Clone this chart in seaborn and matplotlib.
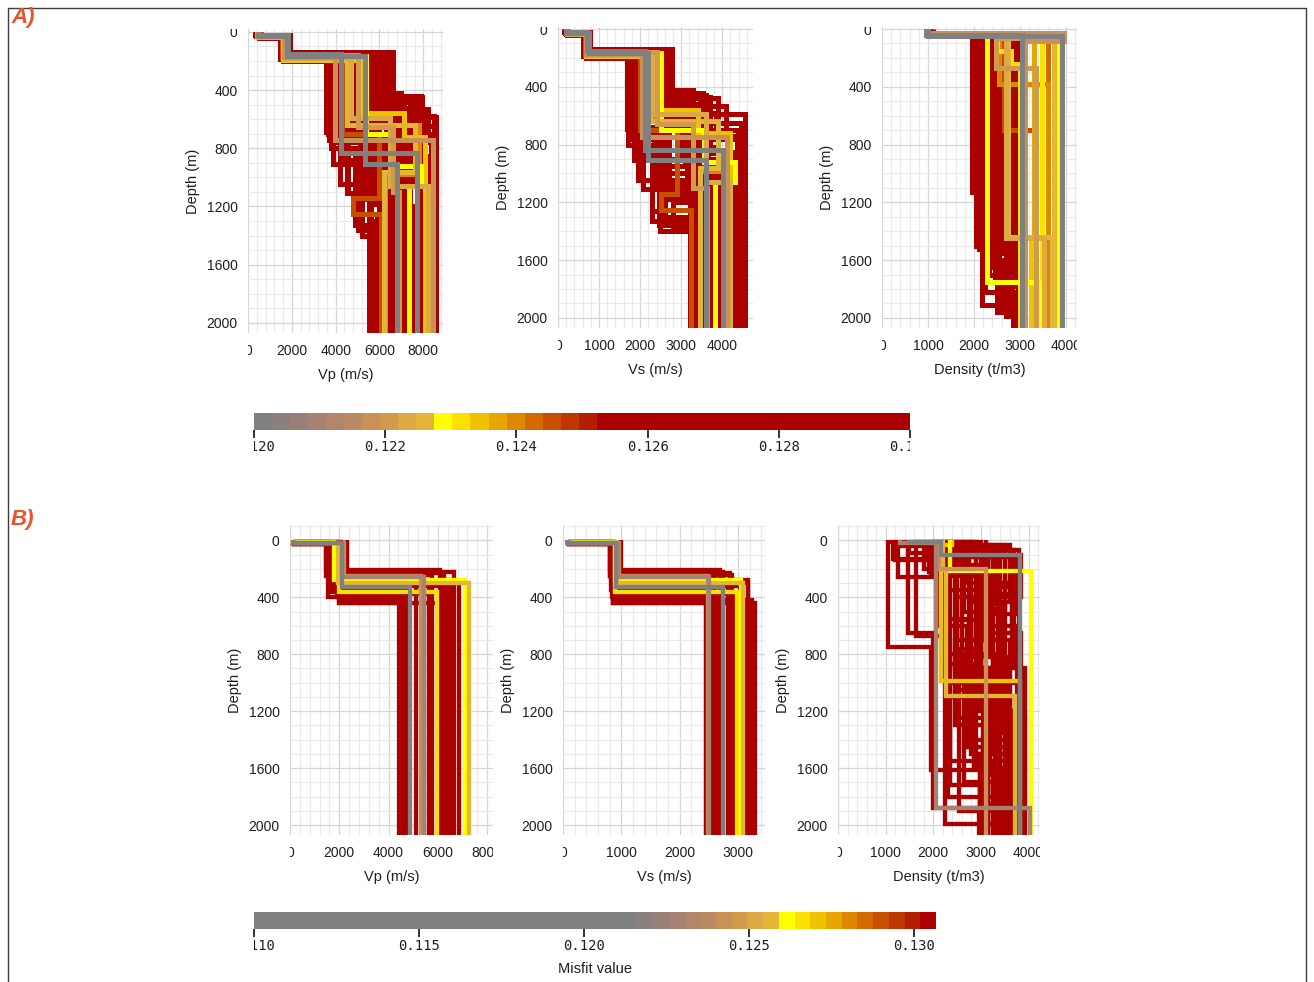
import numpy as np
import pandas as pd
import matplotlib
matplotlib.use("Agg")
import matplotlib.pyplot as plt
import seaborn as sns
from matplotlib.colors import ListedColormap, BoundaryNorm
from matplotlib.transforms import Bbox, TransformedBbox
from matplotlib.patches import Rectangle
from matplotlib.cm import ScalarMappable
from matplotlib.ticker import MultipleLocator, FormatStrFormatter

# ---------------------------------------------------------------- data
# misfit colour scale (20 steps, gray -> yellow -> dark red)
MISFIT_COLORS = ["#808080", "#8c807e", "#988079", "#a58273", "#b2866b",
                 "#bc8a62", "#c79157", "#d29b4c", "#dca942", "#e4b638",
                 "#ffff00", "#fae100", "#f0c300", "#e8a600", "#de8700",
                 "#d46900", "#c84e00", "#be3700", "#b41e00", "#aa0000"]
A_CBAR_TICKS = [0.120, 0.122, 0.124, 0.126, 0.128, 0.130]
B_CBAR_TICKS = [0.110, 0.115, 0.120, 0.125, 0.130]
CBAR_LABEL = "Misfit value"

# --- panel A : Vp / Vs models (layer tops in m, values in m/s)
A_VEL_TOPS = [
    [0, 25, 145, 690], [0, 30, 160, 745, 1110], [0, 35, 175, 905, 1330],
    [0, 28, 190, 1045], [0, 22, 140, 445, 585], [0, 30, 150, 580, 740],
    [0, 35, 160, 470, 700], [0, 25, 150, 520, 900], [0, 30, 170, 640, 1000],
    [0, 40, 185, 600, 850], [0, 20, 155, 700, 1200], [0, 33, 200, 560, 950],
    [0, 27, 165, 760, 1120], [0, 35, 145, 800, 1260, 1400],
    [0, 30, 160, 480, 820, 1300], [0, 38, 175, 620, 900],
    [0, 26, 150, 420, 1050], [0, 32, 190, 880, 1180],
    [0, 29, 165, 530, 760, 1470], [0, 36, 180, 700, 1000],
    [0, 22, 155, 560, 860], [0, 31, 170, 1110, 1330], [0, 28, 150, 650, 1250],
    [0, 34, 180, 440, 950, 1450],
    [0, 24, 150, 700, 1150], [0, 33, 170, 620, 1000], [0, 27, 160, 560, 900, 1300],
    [0, 30, 155, 500, 760], [0, 36, 185, 480, 820, 1200], [0, 25, 145, 460, 650],
    [0, 31, 165, 600, 1050, 1380], [0, 29, 175, 720, 1080], [0, 34, 160, 540, 840, 1230],
    [0, 23, 150, 680, 980, 1360], [0, 35, 190, 640, 930], [0, 28, 170, 450, 1020],
    [0, 20, 150, 835], [0, 25, 165, 905], [0, 30, 175, 745],
    [0, 28, 160, 655, 1100], [0, 32, 180, 590, 1060], [0, 30, 170, 640, 960],
    [0, 26, 165, 700, 920, 1060], [0, 33, 190, 560, 720],
    [0, 29, 175, 640, 980], [0, 35, 180, 700, 1140, 1250],
]
A_VP = [
    [350, 1500, 3550, 5500], [420, 1600, 3700, 4550, 5600], [500, 1700, 3900, 5200, 6050],
    [380, 1800, 4200, 5500], [300, 1900, 6600, 7950, 8600], [450, 1850, 6300, 8500, 8600],
    [550, 1750, 6000, 7600, 8400], [400, 1650, 5800, 7200, 8100], [600, 1550, 5400, 6900, 7800],
    [500, 1450, 5000, 6500, 8300], [350, 1700, 4700, 6200, 7000], [450, 1600, 4400, 6000, 7400],
    [380, 1900, 4100, 5800, 6800], [550, 1800, 3800, 4900, 5200, 6300],
    [420, 1650, 5200, 7700, 6500, 6200], [520, 1750, 4600, 6700, 8000],
    [360, 1550, 6400, 7000, 8500], [470, 1850, 4300, 5600, 6400],
    [400, 1700, 5600, 8200, 7300, 5500], [480, 1600, 4900, 6300, 7100],
    [330, 1800, 5900, 7500, 8550], [440, 1650, 4500, 4900, 5700], [390, 1900, 6100, 7100, 5900],
    [470, 1550, 6550, 7900, 7000, 6600],
    [380, 1600, 3650, 5100, 6200], [460, 1750, 4000, 5900, 7300],
    [400, 1850, 4350, 6300, 5500, 6500], [430, 1550, 4800, 7100, 8350],
    [500, 1700, 5100, 7400, 6800, 7600], [370, 1800, 5700, 7800, 8500],
    [440, 1650, 6250, 6900, 6000, 5650], [420, 1900, 4450, 5300, 6600],
    [470, 1600, 5500, 8000, 7100, 6900], [350, 1750, 4050, 5700, 5000, 5800],
    [510, 1850, 5250, 6800, 7700], [400, 1700, 6450, 7500, 8000],
    [450, 1820, 4230, 7730], [500, 1800, 5360, 6800], [400, 1650, 3950, 8450],
    [450, 1750, 5000, 6600, 6900], [480, 1700, 4700, 6500, 8200], [430, 1750, 4500, 7600, 6200],
    [400, 1800, 5400, 6600, 7900, 7330], [470, 1600, 5200, 7100, 8100],
    [420, 1700, 5000, 7800, 6250], [500, 1550, 4300, 6000, 4800, 6050],
]
A_VS = [
    [180, 640, 1680, 3220], [200, 660, 1760, 2350, 3300], [220, 700, 1850, 2500, 3450],
    [190, 740, 1950, 3220], [150, 780, 2770, 3520, 4560], [200, 760, 2700, 3840, 4500],
    [230, 720, 2600, 3700, 4390], [190, 680, 2500, 3400, 4200], [250, 650, 2300, 3300, 4000],
    [220, 620, 2200, 3100, 4300], [170, 700, 2100, 2900, 3700], [200, 670, 1900, 2700, 3900],
    [180, 760, 1800, 2600, 3600], [230, 740, 1700, 2300, 2490, 3450],
    [200, 690, 2400, 3900, 3500, 3350], [220, 720, 2000, 3000, 4100],
    [180, 650, 2650, 3300, 4450], [210, 760, 1900, 2700, 3500],
    [190, 700, 2550, 4100, 3650, 3220], [210, 680, 2150, 3200, 3800],
    [160, 740, 2600, 3600, 4560], [200, 690, 2080, 2290, 3250], [180, 780, 2750, 3400, 3300],
    [210, 640, 2770, 3500, 3950, 3550],
    [180, 650, 1700, 2450, 3350], [210, 720, 1850, 2700, 3800],
    [190, 750, 1950, 2900, 2600, 3500], [200, 650, 2150, 3300, 4350],
    [220, 700, 2350, 3500, 3150, 3750], [180, 740, 2650, 3600, 4450],
    [200, 690, 2700, 3200, 2800, 3300], [190, 760, 2000, 2550, 3550],
    [210, 670, 2450, 3700, 3300, 3600], [170, 720, 1800, 2650, 2450, 3250],
    [220, 750, 2400, 3100, 3750], [190, 700, 2750, 3450, 4000],
    [200, 700, 2110, 4030], [220, 760, 2190, 3600], [190, 680, 2050, 4110],
    [200, 720, 2400, 3300, 3620], [210, 700, 2300, 3600, 4200], [200, 720, 2250, 3900, 3450],
    [190, 740, 2500, 3550, 4300, 3830], [210, 680, 2400, 3400, 4200],
    [200, 700, 2300, 3900, 3450], [220, 650, 2000, 2900, 2500, 3250],
]
A_VEL_MISFIT = [0.1262, 0.1285, 0.1271, 0.1290, 0.1297, 0.1266, 0.1279, 0.1258,
                0.1283, 0.1274, 0.1269, 0.1288, 0.1277, 0.1293, 0.1261, 0.1281,
                0.1272, 0.1295, 0.1264, 0.1286, 0.1276, 0.1268, 0.1291, 0.1259,
                0.1263, 0.1284, 0.1270, 0.1289, 0.1296, 0.1267, 0.1278, 0.1257,
                0.1282, 0.1275, 0.1265, 0.1287,
                0.1201, 0.12015, 0.1218, 0.1221, 0.1223, 0.1226, 0.1229, 0.1234,
                0.1240, 0.1245]

# --- panel A : density models
A_RHO_TOPS = [
    [0, 40, 1130], [0, 45, 1520], [0, 35, 1910], [0, 42, 780, 1750], [0, 38, 1600, 1960],
    [0, 44, 1300], [0, 40, 700, 1450], [0, 36, 900], [0, 45, 1250, 1940], [0, 42, 400, 1100],
    [0, 40, 1680], [0, 30, 70], [0, 40, 1500, 1820], [0, 43, 1000, 1650], [0, 41, 850, 1880],
    [0, 39, 1400], [0, 44, 1200, 1920],
    [0, 40, 950, 1700], [0, 42, 1180], [0, 38, 600, 1350], [0, 45, 1050, 1850],
    [0, 41, 820, 1550], [0, 40, 1320, 1990], [0, 44, 760, 1620], [0, 39, 1100],
    [0, 43, 950, 1780], [0, 40, 1250], [0, 36, 500, 1480], [0, 42, 1400, 1850],
    [0, 30, 60], [0, 45, 1700, 1960],
    [0, 40], [0, 45], [0, 30, 85], [0, 42, 65, 270], [0, 40, 1450], [0, 45, 1440],
    [0, 40, 1750], [0, 45, 150, 240], [0, 40, 1450], [0, 38, 380], [0, 42, 700],
    [0, 40], [0, 42], [0, 44], [0, 38], [0, 41],
]
A_RHO = [
    [1000, 1960, 3000], [1050, 2100, 2950], [980, 2180, 3000], [1020, 2300, 2450, 3000],
    [1000, 2450, 2600, 3000], [950, 2550, 2970], [1100, 2650, 2750, 3000], [1000, 2800, 3000],
    [1000, 2380, 2720, 2980], [1050, 2620, 2500, 2950], [1000, 2850, 2990], [1000, 3930, 2950],
    [1000, 2050, 2250, 2850], [1000, 2200, 2350, 2980], [1000, 2500, 2700, 2950],
    [1000, 2750, 2960], [1000, 2150, 2550, 3000],
    [1000, 2030, 2300, 2950], [1000, 2120, 2980], [1000, 2250, 2400, 3000],
    [1000, 2350, 2550, 2990], [1000, 2420, 2600, 2960], [1000, 2520, 2700, 3000],
    [1000, 2580, 2850, 2980], [1000, 2680, 2950], [1000, 2730, 2900, 3000],
    [1000, 2900, 3000], [1000, 2950, 2820, 2990], [1000, 2600, 2820, 3000],
    [1000, 3700, 2980], [1000, 2320, 2500, 2950],
    [950, 3050], [1000, 3920], [1000, 3950, 3100], [1000, 3300, 2480, 3350],
    [1000, 2700, 3520], [1000, 2750, 3700], [1000, 2290, 3420], [1000, 2500, 2800, 3000],
    [1000, 2710, 3250], [1000, 2550, 3600], [1000, 2650, 3300],
    [1000, 3300], [1000, 3480], [1000, 3750], [1000, 3600], [1000, 3820],
]
A_RHO_MISFIT = [0.1262, 0.1285, 0.1271, 0.1290, 0.1297, 0.1266, 0.1279, 0.1258, 0.1283,
                0.1274, 0.1269, 0.1288, 0.1277, 0.1293, 0.1261, 0.1281, 0.1272,
                0.1263, 0.1284, 0.1270, 0.1289, 0.1296, 0.1267, 0.1278, 0.1257,
                0.1282, 0.1275, 0.1265, 0.1287, 0.1292, 0.1280,
                0.1201, 0.12015, 0.1218, 0.1221, 0.1223, 0.1226, 0.1229, 0.1231,
                0.1234, 0.1240, 0.1245,
                0.1236, 0.1232, 0.1227, 0.1243, 0.1229]

# --- panel B : Vp / Vs models
B_VEL_TOPS = [
    [0, 15, 250], [0, 10, 440], [0, 225], [0, 20, 230], [0, 15, 300], [0, 25, 260],
    [0, 18, 320], [0, 22, 350], [0, 12, 380], [0, 20, 440], [0, 210], [0, 16, 400],
    [0, 18, 340], [0, 14, 270], [0, 22, 400], [0, 16, 300], [0, 20, 240], [0, 12, 280],
    [0, 24, 360], [0, 15, 420],
    [0, 15, 330], [0, 15, 255], [0, 20, 250], [0, 20, 300], [0, 12, 280], [0, 18, 365],
]
B_VP = [
    [150, 1450, 4420], [200, 2060, 4600], [2300, 6650], [120, 1590, 6240], [180, 1700, 6850],
    [150, 2000, 5100], [130, 1650, 6400], [160, 1800, 4750], [140, 1900, 5650],
    [170, 2000, 6050], [1450, 6100], [150, 1550, 4500],
    [150, 1750, 4480], [130, 1600, 4650], [160, 1950, 4820], [140, 1850, 5650],
    [150, 1500, 5750], [120, 2050, 6550], [170, 1700, 6350], [140, 2000, 4520],
    [110, 2130, 4890], [120, 2100, 5430], [130, 2200, 5300], [140, 1950, 7250],
    [100, 1790, 7110], [130, 2000, 5960],
]
B_VS = [
    [90, 800, 2460], [100, 860, 3290], [1000, 2740], [100, 830, 2860], [110, 900, 3170],
    [95, 950, 2600], [90, 880, 3030], [100, 820, 2550], [85, 870, 2950], [100, 860, 3100],
    [800, 2700], [95, 840, 2500],
    [95, 850, 2470], [90, 820, 2580], [100, 880, 2650], [95, 870, 2830],
    [90, 810, 2900], [85, 900, 3180], [100, 850, 2700], [90, 870, 3250],
    [86, 914, 2740], [90, 940, 2510], [95, 960, 2480], [95, 930, 3080],
    [90, 890, 3060], [100, 900, 2980],
]
B_VEL_MISFIT = [0.1302, 0.1305, 0.1303, 0.1306, 0.1304, 0.1302, 0.1305, 0.1303, 0.1304,
                0.1306, 0.1302, 0.1305, 0.1303, 0.1304, 0.1306, 0.1302, 0.1305, 0.1303,
                0.1304, 0.1306,
                0.1105, 0.1228, 0.1242, 0.1256, 0.1261, 0.1266]

# --- panel B : density models
B_RHO_TOPS = [
    [0, 750, 1610], [0, 260, 1720], [0, 650, 1880], [0, 670, 1990], [0, 140, 600, 1400],
    [0, 50, 400, 1100], [0, 120, 900], [0, 10, 80, 350, 1500], [0, 200, 1000, 1580],
    [0, 100, 700, 1300], [0, 30, 480, 1650], [0, 180, 550, 980], [0, 250, 800, 1450],
    [0, 90, 420, 1200], [0, 8, 60, 330, 1000], [0, 150, 1050, 1750], [0, 40, 600, 1350],
    [0, 110, 870, 1550], [0, 8, 70, 1250], [0, 220, 760, 1900], [0, 130, 500, 1500],
    [0, 300, 1100, 1800],
    [0, 60, 500, 1200], [0, 90, 700, 1450], [0, 40, 300, 900, 1600], [0, 120, 650, 1350],
    [0, 30, 450, 1100, 1700], [0, 70, 380, 950], [0, 160, 820, 1500],
    [0, 50, 560, 1250, 1850], [0, 100, 400, 1000], [0, 20, 250, 1150], [0, 80, 600, 1700],
    [0, 140, 900, 1600], [0, 60, 350, 800, 1400], [0, 110, 520, 1300], [0, 45, 700, 1550],
    [0, 200, 1000, 1900], [0, 35, 430, 1050], [0, 170, 650, 1500], [0, 80, 300, 700, 1300],
    [0, 240, 900, 1650],
    [0, 12, 106], [0, 15, 1880], [0, 200], [0, 210, 1094], [0, 212], [0, 30, 988],
]
B_RHO = [
    [1050, 1960, 3000], [1260, 2350, 3150], [1470, 2000, 2950], [1640, 2240, 3350],
    [1200, 2100, 2700, 3500], [2300, 3290, 2500, 3600], [2600, 3700, 3920],
    [2000, 2900, 3300, 2800, 3800], [1800, 2600, 2900, 3250], [2100, 3000, 2450, 3700],
    [1700, 3500, 3100, 3900], [2500, 2200, 2800, 3400], [2000, 3200, 2650, 3050],
    [1500, 2750, 3400, 3650], [1600, 2800, 3600, 3000, 3300], [2200, 2500, 3150, 2980],
    [1350, 3100, 3450, 3750], [2400, 2900, 2350, 3550], [1100, 3000, 3800, 3920],
    [1900, 2950, 2550, 3450], [1150, 2650, 3250, 2980], [2700, 3400, 2300, 3850],
    [2100, 3350, 2950, 3850], [2250, 3500, 2700, 3700], [1900, 3150, 3650, 2850, 3450],
    [2550, 3650, 3250, 3900], [1750, 2900, 3450, 2650, 3350], [2450, 3700, 3000, 3600],
    [2050, 2750, 3550, 3150], [2650, 3250, 2500, 3750, 3050], [2350, 3850, 3350, 3780],
    [1600, 2650, 3000, 3550], [2750, 3150, 3750, 3250], [1850, 2450, 3050, 3650],
    [2950, 3400, 2200, 3300, 3880], [2150, 3750, 2900, 3400], [2500, 3050, 3600, 3100],
    [2000, 2300, 3350, 3700], [3100, 3600, 2750, 3500], [2300, 3100, 3850, 2990],
    [2850, 3250, 2600, 3500, 3900], [1950, 2800, 3200, 3600],
    [1500, 2170, 3810], [1300, 2060, 4020], [2130, 3110], [2200, 2270, 3710],
    [2350, 4060], [2400, 2170, 3810],
]
B_RHO_MISFIT = [0.1302, 0.1305, 0.1303, 0.1306, 0.1304, 0.1302, 0.1305, 0.1303, 0.1304,
                0.1306, 0.1302, 0.1305, 0.1303, 0.1304, 0.1306, 0.1302, 0.1305, 0.1303,
                0.1304, 0.1306, 0.1302, 0.1305,
                0.1303, 0.1304, 0.1306, 0.1302, 0.1305, 0.1303, 0.1304, 0.1306, 0.1302,
                0.1305, 0.1303, 0.1304, 0.1306, 0.1302, 0.1305, 0.1303, 0.1304, 0.1306,
                0.1302, 0.1305,
                0.1105, 0.1228, 0.1242, 0.1256, 0.1261, 0.1270]

# ---------------------------------------------------------------- style
W, H, DPI = 1314, 982, 100
sns.set_theme(style="white")
plt.rcParams["font.family"] = ["Liberation Sans", "DejaVu Sans"]
TXT = "#1e1e1e"

# colour-scale boundaries (style: 20 equal steps)
A_BOUNDS = [0.1200 + k * 0.000275 for k in range(20)] + [0.1300]
B_BOUNDS = [0.1100] + [0.12161 + k * 0.000476 for k in range(20)]
CMAP = ListedColormap(MISFIT_COLORS)

fig = plt.figure(figsize=(W / DPI, H / DPI), dpi=DPI)


def px_axes(l, t, r, b):
    return fig.add_axes([l / W, 1 - b / H, (r - l) / W, (b - t) / H])


def color_of(m, bounds):
    idx = int(np.searchsorted(bounds, m, side="right") - 1)
    return MISFIT_COLORS[min(max(idx, 0), 19)]


def profile_frame(tops, values, bottom=2300):
    rows = []
    for k, (t, v) in enumerate(zip(tops, values)):
        edges = list(t) + [bottom]
        for i, val in enumerate(v):
            rows.append((f"m{k:02d}", val, edges[i]))
            rows.append((f"m{k:02d}", val, edges[i + 1]))
    return pd.DataFrame(rows, columns=["model", "value", "depth"])


def draw_profiles(ax, tops, values, misfits, bounds, lw):
    df = profile_frame(tops, values)
    names = [f"m{k:02d}" for k in range(len(misfits))]
    order = [names[i] for i in sorted(range(len(misfits)), key=lambda i: -misfits[i])]
    pal = {names[i]: color_of(misfits[i], bounds) for i in range(len(misfits))}
    sns.lineplot(data=df, x="value", y="depth", hue="model", hue_order=order,
                 palette=pal, estimator=None, sort=False, legend=False,
                 linewidth=lw, solid_joinstyle="miter", solid_capstyle="butt", ax=ax)


def clip_ticklabels(ax, axis):
    if axis == "x":
        box = TransformedBbox(Bbox([[0, -2], [1, 0]]), ax.transAxes)
        ticks = ax.xaxis.get_major_ticks()
    else:
        box = TransformedBbox(Bbox([[-2, 0], [0, 1]]), ax.transAxes)
        ticks = ax.yaxis.get_major_ticks()
    for t in ticks:
        t.label1.set_clip_box(box)
        t.label1.set_clip_on(True)


def style_axes(ax, xmax, xmajor, xminor, ytop, xlabel):
    ax.set_xlim(0, xmax)
    ax.set_ylim(2070, ytop)
    ax.set_xticks(np.arange(0, xmax + 1, xmajor))
    ax.set_xticklabels([f"{int(v)}" for v in np.arange(0, xmax + 1, xmajor)])
    ax.xaxis.set_minor_locator(MultipleLocator(xminor))
    ax.set_yticks([0, 400, 800, 1200, 1600, 2000])
    ax.set_yticklabels(["0", "400", "800", "1200", "1600", "2000"])
    ax.yaxis.set_minor_locator(MultipleLocator(100))
    ax.set_axisbelow(True)
    ax.grid(which="major", color="#d6d6d6", lw=0.9)
    ax.grid(which="minor", color="#e9e9e9", lw=0.8)
    for s in ax.spines.values():
        s.set_visible(False)
    ax.tick_params(axis="x", which="major", length=6, width=1.0, color="#2a2a2a",
                   pad=2, labelsize=10, labelcolor=TXT)
    ax.tick_params(axis="x", which="minor", length=3, width=1.0, color="#2a2a2a")
    ax.tick_params(axis="y", which="major", length=6, width=1.0, color="#2a2a2a",
                   pad=1.5, labelsize=10, labelcolor=TXT)
    ax.tick_params(axis="y", which="minor", length=3, width=1.0, color="#2a2a2a")
    ax.set_xlabel(xlabel, fontsize=10.5, color=TXT, labelpad=7)
    ax.set_ylabel("Depth (m)", fontsize=10.5, color=TXT, labelpad=5)
    clip_ticklabels(ax, "x")
    clip_ticklabels(ax, "y")


# ---------------------------------------------------------------- panel A
LW_A, LW_B = 3.6, 3.1
a1 = px_axes(248, 29, 443, 333)
draw_profiles(a1, A_VEL_TOPS, A_VP, A_VEL_MISFIT, A_BOUNDS, LW_A)
style_axes(a1, 8900, 2000, 400, -20, "Vp (m/s)")

a2 = px_axes(558, 27, 753, 328)
draw_profiles(a2, A_VEL_TOPS, A_VS, A_VEL_MISFIT, A_BOUNDS, LW_A)
style_axes(a2, 4750, 1000, 200, -14, "Vs (m/s)")

a3 = px_axes(882, 27, 1077, 328)
draw_profiles(a3, A_RHO_TOPS, A_RHO, A_RHO_MISFIT, A_BOUNDS, LW_A)
style_axes(a3, 4240, 1000, 200, -14, "Density (t/m3)")

# ---------------------------------------------------------------- panel B
b1 = px_axes(290, 525, 493, 835)
draw_profiles(b1, B_VEL_TOPS, B_VP, B_VEL_MISFIT, B_BOUNDS, LW_B)
style_axes(b1, 8240, 2000, 400, -108, "Vp (m/s)")

b2 = px_axes(563, 525, 765, 835)
draw_profiles(b2, B_VEL_TOPS, B_VS, B_VEL_MISFIT, B_BOUNDS, LW_B)
style_axes(b2, 3465, 1000, 200, -108, "Vs (m/s)")

b3 = px_axes(838, 525, 1040, 835)
draw_profiles(b3, B_RHO_TOPS, B_RHO, B_RHO_MISFIT, B_BOUNDS, LW_B)
style_axes(b3, 4240, 1000, 200, -108, "Density (t/m3)")


# ---------------------------------------------------------------- colorbars
def colorbar(l, t, r, b, bounds, ticks, label=None):
    cax = px_axes(l, t, r, b)
    sm = ScalarMappable(norm=BoundaryNorm(bounds, 20), cmap=CMAP)
    cb = fig.colorbar(sm, cax=cax, orientation="horizontal", spacing="proportional",
                      ticks=ticks, format=FormatStrFormatter("%.3f"))
    cb.outline.set_visible(False)
    cax.tick_params(axis="x", which="major", length=6, width=1.3, color="#222222",
                    pad=1.5, labelsize=10, labelcolor=TXT)
    cax.tick_params(axis="x", which="minor", length=0)
    for lab in cax.get_xticklabels():
        lab.set_fontfamily("DejaVu Sans Mono")
    clip_ticklabels(cax, "x")
    if label:
        cax.set_xlabel(label, fontsize=10.5, color=TXT, labelpad=6)
    return cb


colorbar(254, 413, 910, 430, A_BOUNDS, A_CBAR_TICKS)
colorbar(254, 912, 936, 929, B_BOUNDS, B_CBAR_TICKS, CBAR_LABEL)

# ---------------------------------------------------------------- labels & frame
for y, s in [(17, "A)"), (519, "B)")]:
    fig.text(11 / W, 1 - y / H, s, ha="left", va="center", fontsize=16,
             fontweight="bold", fontstyle="italic", color="#e8552c")

fig.add_artist(Rectangle((8 / W, -0.05), (1306 - 8) / W, 1.05 - 8 / H,
                         transform=fig.transFigure, fill=False,
                         edgecolor="#3c3c3c", lw=1.0))

fig.savefig("out.png", dpi=DPI)
